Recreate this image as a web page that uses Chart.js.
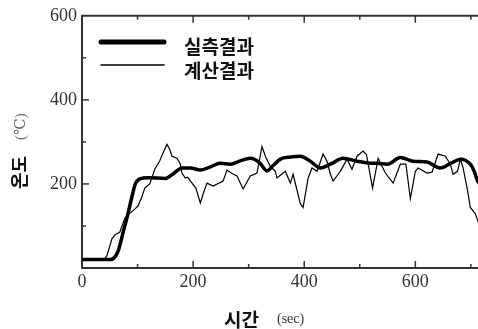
<!DOCTYPE html>
<html>
<head>
<meta charset="utf-8">
<script src="https://cdn.jsdelivr.net/npm/chart.js@4"></script>
<style>
  html, body { margin: 0; padding: 0; background: #fff; overflow: hidden; }
  #wrap { width: 492px; height: 329px; }
</style>
</head>
<body>
<div id="wrap"><canvas id="lineChart"></canvas></div>
<script>
const seriesNames = ["실측결과", "계산결과"];
const measuredT = [0, 50, 56, 65, 75, 82, 90, 96, 104, 120, 150, 165, 180, 195, 213, 230, 249, 267, 285, 303, 320, 333, 345, 357, 375, 393, 411, 429, 447, 470, 495, 515, 532, 550, 573, 596, 621, 645, 665, 681, 699, 706, 712, 716];
const measuredV = [20, 20, 22, 40, 90, 125, 170, 200, 212, 215, 213, 225, 238, 238, 233, 240, 249, 247, 255, 261, 250, 231, 245, 259, 264, 266, 254, 238, 247, 261, 254, 250, 249, 247, 263, 254, 252, 238, 250, 259, 247, 230, 207, 200];
const calcT = [0, 40, 45, 54, 60, 68, 77, 86, 95, 101, 108, 113, 122, 131, 140, 148, 153, 158, 162, 171, 177, 180, 186, 190, 198, 205, 213, 218, 225, 236, 254, 261, 270, 279, 290, 303, 315, 324, 330, 339, 348, 351, 366, 375, 380, 393, 398, 407, 414, 423, 434, 441, 447, 452, 461, 465, 477, 486, 495, 506, 512, 523, 533, 546, 560, 573, 583, 591, 600, 605, 621, 630, 641, 654, 663, 668, 676, 681, 686, 694, 699, 708, 716];
const calcV = [20, 20, 30, 70, 80, 85, 118, 130, 140, 148, 170, 190, 200, 235, 255, 280, 294, 282, 266, 261, 247, 226, 214, 216, 202, 190, 155, 176, 202, 195, 207, 233, 225, 219, 188, 219, 226, 289, 266, 242, 230, 214, 230, 202, 223, 153, 144, 214, 238, 230, 271, 254, 223, 207, 223, 230, 259, 235, 266, 278, 270, 190, 261, 226, 202, 247, 247, 165, 230, 238, 226, 228, 271, 266, 247, 223, 230, 259, 238, 184, 144, 129, 100];
const xLabels = [0, 200, 400, 600];
const yLabels = [200, 400, 600];

function toPoints(xs, ys) {
    return xs.map((x, i) => ({x: x, y: ys[i]}));
}

const serif = "'Liberation Serif', 'DejaVu Serif', serif";
const korean = "'Noto Sans CJK KR', sans-serif";
const ink = "#333";

// inward tick marks, top frame, legend and axis titles
const decorations = {
    id: "decorations",
    afterDraw(chart) {
        const ctx = chart.ctx;
        const a = chart.chartArea;
        const xs = chart.scales.x, ys = chart.scales.y;
        ctx.save();
        ctx.strokeStyle = ink;
        ctx.lineWidth = 2;
        ctx.beginPath();
        ctx.moveTo(a.left, a.top);
        ctx.lineTo(a.right + 10, a.top);
        ctx.stroke();

        ctx.lineWidth = 1.5;
        for (let v = 100; v <= 700; v += 100) {
            const len = v % 200 === 0 ? 7 : 4;
            const px = xs.getPixelForValue(v);
            ctx.beginPath();
            ctx.moveTo(px, a.bottom); ctx.lineTo(px, a.bottom - len);
            ctx.moveTo(px, a.top); ctx.lineTo(px, a.top + len);
            ctx.stroke();
        }
        for (let v = 100; v <= 500; v += 100) {
            const len = v % 200 === 0 ? 7 : 4;
            const py = ys.getPixelForValue(v);
            ctx.beginPath();
            ctx.moveTo(a.left, py); ctx.lineTo(a.left + len, py);
            ctx.stroke();
        }

        // legend
        const items = [
            {w: 5, y: 42, ty: 47},
            {w: 1.5, y: 65, ty: 71}
        ];
        items.forEach((it, i) => {
            ctx.strokeStyle = "#000";
            ctx.lineWidth = it.w;
            ctx.lineCap = "round";
            ctx.beginPath();
            ctx.moveTo(101, it.y); ctx.lineTo(164, it.y);
            ctx.stroke();
            ctx.fillStyle = "#111";
            ctx.font = "bold 19px " + korean;
            ctx.textBaseline = "middle";
            ctx.textAlign = "left";
            ctx.fillText(seriesNames[i], 184, it.ty);
        });

        // x title
        ctx.textBaseline = "alphabetic";
        ctx.font = "bold 19px " + korean;
        ctx.fillText("시간", 224, 327);
        ctx.font = "14px " + serif;
        ctx.fillStyle = "#333";
        ctx.fillText("(sec)", 277, 323);

        // y title
        ctx.save();
        ctx.translate(26, 170);
        ctx.rotate(-Math.PI / 2);
        ctx.fillStyle = "#111";
        ctx.font = "bold 18px " + korean;
        ctx.textAlign = "left";
        ctx.fillText("온도", -19, 0);
        ctx.font = "15px " + serif;
        ctx.fillStyle = "#666";
        ctx.fillText("(℃)", 30, -1);
        ctx.restore();
        ctx.restore();
    }
};

new Chart(document.getElementById("lineChart"), {
    type: "line",
    data: {
        datasets: [
            {
                label: seriesNames[0],
                data: toPoints(measuredT, measuredV),
                borderColor: "#000",
                borderWidth: 3.5,
                pointRadius: 0,
                cubicInterpolationMode: "monotone",
                fill: false
            },
            {
                label: seriesNames[1],
                data: toPoints(calcT, calcV),
                borderColor: "#000",
                borderWidth: 1.2,
                pointRadius: 0,
                tension: 0,
                fill: false
            }
        ]
    },
    options: {
        responsive: true,
        maintainAspectRatio: false,
        animation: false,
        layout: {
            padding: {top: 13, right: 10, left: 0, bottom: 0}
        },
        scales: {
            x: {
                type: "linear",
                min: 0,
                max: 720,
                afterFit: s => { s.height = 61; },
                grid: {display: false, drawTicks: false},
                border: {display: true, color: ink, width: 2},
                afterBuildTicks: s => { s.ticks = xLabels.map(v => ({value: v})); },
                ticks: {
                    color: ink,
                    padding: 3,
                    maxRotation: 0,
                    font: {family: serif, size: 18}
                }
            },
            y: {
                min: 0,
                max: 600,
                afterFit: s => { s.width = 82; },
                grid: {display: false, drawTicks: false},
                border: {display: true, color: ink, width: 2},
                afterBuildTicks: s => { s.ticks = yLabels.map(v => ({value: v})); },
                ticks: {
                    color: ink,
                    padding: 5,
                    font: {family: serif, size: 18}
                }
            }
        },
        plugins: {
            legend: {display: false},
            tooltip: {enabled: false}
        }
    },
    plugins: [decorations]
});
</script>
</body>
</html>
